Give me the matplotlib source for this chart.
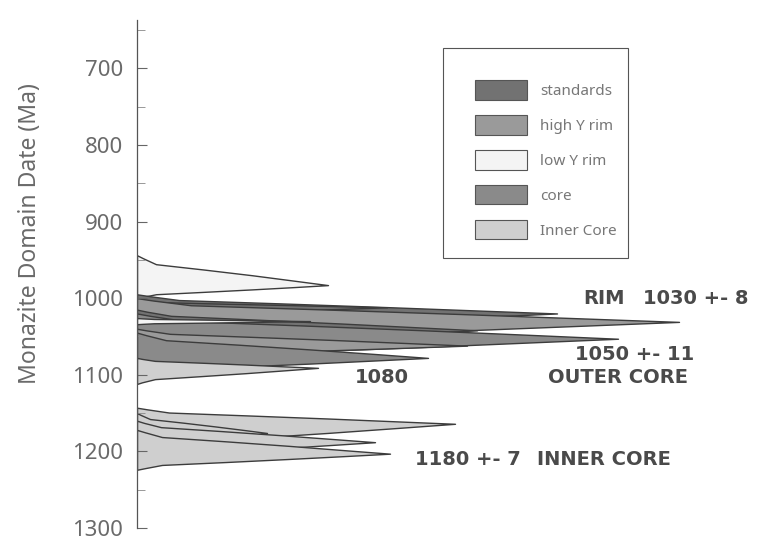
import matplotlib
matplotlib.use("Agg")
import matplotlib.pyplot as plt
from matplotlib.patches import Patch, Rectangle

# ---------------- data ----------------
# each curve: category, dates (Ma) and relative probability (arbitrary units)
# listed along the outline: top edge -> tip -> bottom edge
categories = ["standards", "high Y rim", "low Y rim", "core", "Inner Core"]
cat_colors = {"standards": "#727272", "high Y rim": "#9a9a9a",
              "low Y rim": "#f4f4f4", "core": "#8a8a8a",
              "Inner Core": "#cfcfcf"}

curve_cats = ["low Y rim", "standards", "standards", "high Y rim",
              "standards", "core", "high Y rim", "low Y rim", "core",
              "Inner Core",
              "Inner Core", "Inner Core", "Inner Core", "Inner Core"]
curve_dates = [
    [944, 947.9, 955.7, 962.7, 970.1, 977.2, 983,
     985.6, 988.6, 991.8, 994.9, 998.3, 1000],
    [995, 997.5, 1002.5, 1007, 1011.8, 1016.3, 1020,
     1024.5, 1029.9, 1035.6, 1041, 1047, 1050],
    [1003, 1003.9, 1005.3, 1007.3, 1009, 1010.7, 1012,
     1014, 1016.3, 1018.8, 1021.1, 1023.7, 1025],
    [1000, 1003.1, 1009.3, 1014.9, 1020.8, 1026.4, 1031,
     1036.1, 1042.2, 1048.7, 1054.8, 1061.6, 1065],
    [1015, 1017.7, 1023.1, 1028, 1033.1, 1038, 1042,
     1045.9, 1050.6, 1055.5, 1060.2, 1065.4, 1068],
    [1020, 1023.3, 1029.9, 1035.8, 1042.1, 1048, 1053,
     1057.8, 1063.6, 1069.6, 1075.4, 1081.8, 1085],
    [1040, 1042.2, 1046.6, 1050.6, 1054.7, 1058.7, 1062,
     1064.7, 1067.9, 1071.4, 1074.6, 1078.2, 1080],
    [1026, 1026.4, 1027.2, 1027.9, 1028.7, 1029.4, 1030,
     1030.6, 1031.3, 1032.1, 1032.8, 1033.6, 1034],
    [1045, 1048.3, 1054.9, 1060.8, 1067.1, 1073, 1078,
     1081.3, 1085.3, 1089.4, 1093.4, 1097.8, 1100],
    [1078, 1079.3, 1081.9, 1084.2, 1086.7, 1089.1, 1091,
     1094.2, 1097.9, 1101.9, 1105.7, 1109.9, 1112],
    [1143, 1145.1, 1149.3, 1153.1, 1157.1, 1160.9, 1164,
     1169.4, 1175.9, 1182.7, 1189.2, 1196.4, 1200],
    [1150, 1152.6, 1157.8, 1162.5, 1167.4, 1172.1, 1176,
     1179.6, 1183.9, 1188.5, 1192.8, 1197.6, 1200],
    [1160, 1162.8, 1168.4, 1173.4, 1178.8, 1183.8, 1188,
     1191.6, 1195.9, 1200.5, 1204.8, 1209.6, 1212],
    [1172, 1175.1, 1181.3, 1186.9, 1192.8, 1198.4, 1203,
     1206.2, 1209.9, 1213.9, 1217.7, 1221.9, 1224],
]
curve_dens = [
    [0, 6, 19, 67, 115, 157, 191, 157, 115, 67, 19, 6, 0],
    [0, 13, 42, 147, 252, 344, 420, 344, 252, 147, 42, 13, 0],
    [0, 8, 25, 88, 150, 205, 250, 205, 150, 88, 25, 8, 0],
    [0, 16, 54, 190, 325, 444, 542, 444, 325, 190, 54, 16, 0],
    [0, 10, 34, 119, 204, 279, 340, 279, 204, 119, 34, 10, 0],
    [0, 14, 48, 168, 289, 394, 481, 394, 289, 168, 48, 14, 0],
    [0, 10, 33, 116, 198, 271, 330, 271, 198, 116, 33, 10, 0],
    [0, 5, 17, 61, 104, 142, 173, 142, 104, 61, 17, 5, 0],
    [0, 9, 29, 102, 175, 239, 291, 239, 175, 102, 29, 9, 0],
    [0, 5, 18, 63, 109, 148, 181, 148, 109, 63, 18, 5, 0],
    [0, 10, 32, 111, 191, 261, 318, 261, 191, 111, 32, 10, 0],
    [0, 4, 13, 46, 78, 107, 130, 107, 78, 46, 13, 4, 0],
    [0, 7, 24, 83, 143, 195, 238, 195, 143, 83, 24, 7, 0],
    [0, 8, 25, 89, 152, 207, 253, 207, 152, 89, 25, 8, 0],
]

labels_text = ["RIM", "1030 +- 8", "1050 +- 11", "OUTER CORE", "1080",
               "1180 +- 7", "INNER CORE"]
labels_x = [446, 506, 438, 411, 218, 278, 400]
labels_date = [1001, 1001, 1074, 1103, 1104, 1210, 1210]

y_major = [700, 800, 900, 1000, 1100, 1200, 1300]
y_minor = [650, 750, 850, 950, 1050, 1150, 1250]

# ---------------- figure ----------------
W, H = 757, 549
fig = plt.figure(figsize=(W / 100, H / 100), dpi=100)
ax = fig.add_axes([137 / W, 1 - 528 / H, 620 / W, 508 / H])

for cat, d, p in zip(curve_cats, curve_dates, curve_dens):
    ax.fill_betweenx(d, 0, p, facecolor=cat_colors[cat],
                     edgecolor="#3c3c3c", linewidth=1.0)

ax.set_xlim(0, 620)
ax.set_ylim(1300, 637)

for s in ["top", "right", "bottom"]:
    ax.spines[s].set_visible(False)
ax.spines["left"].set_color("#555555")
ax.spines["left"].set_linewidth(0.9)
ax.set_xticks([])
ax.set_yticks(y_major)
ax.set_yticks(y_minor, minor=True)
ax.tick_params(axis="y", which="major", direction="in", length=7,
               width=0.8, color="#666666", pad=10, labelsize=16,
               labelcolor="#6a6a6a")
ax.tick_params(axis="y", which="minor", direction="in", length=6,
               width=0.6, color="#888888")
for t in ax.get_yticklabels():
    t.set_fontfamily("Noto Sans")

ax.set_ylabel("Monazite Domain Date (Ma)", fontsize=16.5, color="#6a6a6a",
              family="Noto Sans")
ax.yaxis.label.set_va("center")
ax.yaxis.set_label_coords(-107 / 620, (528 - 234) / 508)

for txt, x, d in zip(labels_text, labels_x, labels_date):
    ax.text(x, d, txt, ha="left", va="center", fontsize=14,
            fontweight="bold", color="#4a4a4a", family="DejaVu Sans")

handles = [Patch(facecolor=cat_colors[c], edgecolor="#555555",
                 linewidth=0.8) for c in categories]
leg = ax.legend(handles, categories, loc="upper left",
                bbox_to_anchor=(443 / W, 1 - 48 / H),
                bbox_transform=fig.transFigure, borderaxespad=0,
                prop={"family": "Noto Sans", "size": 11},
                labelcolor="#777777", frameon=False,
                borderpad=2.1, handlelength=3.4,
                handleheight=1.6, labelspacing=1.0, handletextpad=0.85)
# legend frame as in the reference (tight on the right side)
fig.add_artist(Rectangle((443 / W, 1 - 258 / H), 185 / W, 210 / H,
                         transform=fig.transFigure, fill=False,
                         edgecolor="#555555", linewidth=0.8))

fig.savefig("out.png", dpi=100)
